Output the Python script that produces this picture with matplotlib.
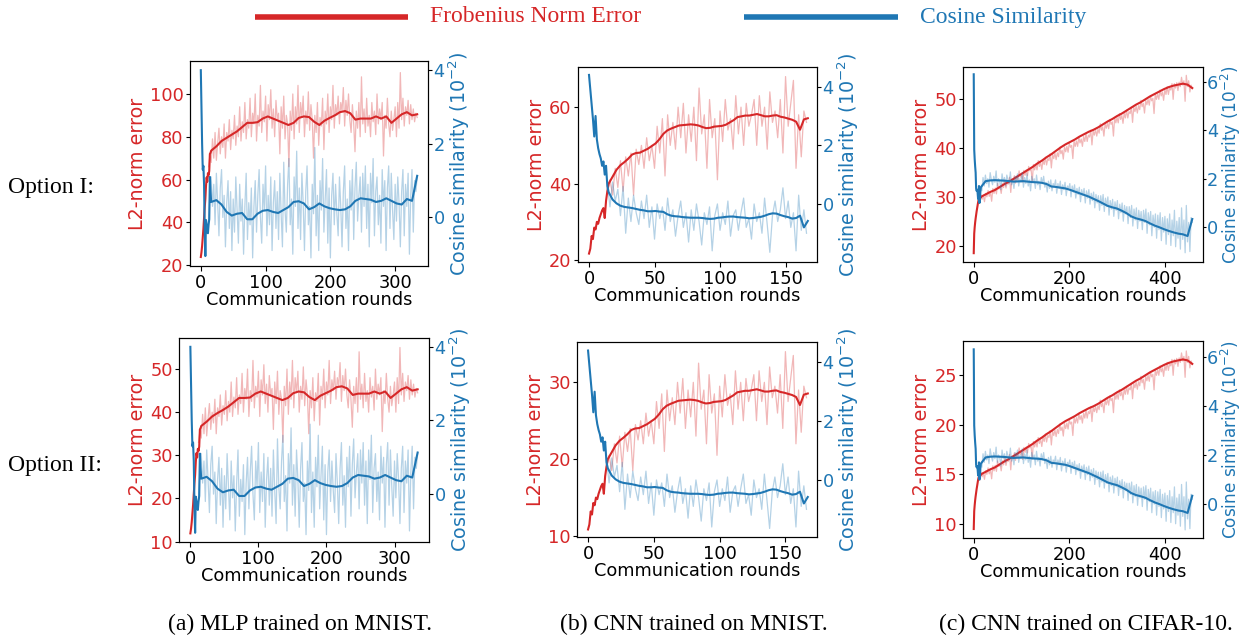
import numpy as np
import matplotlib
matplotlib.use("Agg")
import matplotlib.pyplot as plt
from matplotlib.lines import Line2D
from matplotlib.ticker import FixedLocator

RED = "#d62728"
BLUE = "#1f77b4"

# ---------------- data: (a) MLP on MNIST ----------------
A_END = 334
A_EARLY_L2 = [23.8, 26, 29, 33, 37, 42, 47, 51, 57, 61, 59, 63, 62, 64, 72, 72.5, 73.5]
A_EARLY_COS = [4.0, 3.0, 2.0, 1.3, 1.4, 0.9, -0.3, -1.05, -0.07, -0.2, -0.4, -0.43, -0.2, -0.05, 1.1, 0.7, 0.42]
A_SMOOTH_L2 = [73.5, 75.5, 78, 79.5, 81, 82.5, 84.5, 86.5, 86.5, 86.8, 88.5,
               89.5, 88.5, 87.5, 86.5, 85.5, 86.5, 88.8, 89.5, 89.2, 87,
               85.5, 87.5, 88.8, 90, 91.5, 92, 91, 88, 88.5, 88.5,
               88.5, 89.5, 88.5, 89.5, 86.5, 88.5, 90.5, 91.5, 90, 90.5]
A_SMOOTH_COS = [0.42, 0.47, 0.35, 0.15, 0.05, 0.1, 0.12, -0.05, -0.05, 0.1, 0.18,
                0.2, 0.15, 0.12, 0.2, 0.28, 0.42, 0.44, 0.38, 0.22, 0.28,
                0.38, 0.3, 0.25, 0.22, 0.2, 0.22, 0.3, 0.45, 0.52, 0.5,
                0.48, 0.42, 0.45, 0.52, 0.45, 0.38, 0.35, 0.5, 0.45, 1.13]
A_RAW_L2 = [66, 71, 68, 79, 70, 82, 69, 77, 84, 72,
            80, 75, 86, 70, 82, 78, 88, 74, 83, 79,
            90, 76, 85, 80, 94, 78, 87, 82, 96, 79,
            88, 84, 98, 80, 91, 86, 100, 78, 90, 85,
            104, 82, 92, 87, 99, 78, 95, 88, 102, 84,
            93, 80, 97, 88, 91, 72, 94, 84, 99, 79,
            90, 86, 66, 92, 83, 100, 79, 94, 86, 104,
            82, 96, 89, 99, 80, 92, 86, 101, 83, 95,
            88, 70, 90, 82, 96, 76, 89, 85, 98, 74,
            92, 86, 100, 82, 94, 88, 104, 84, 95, 90,
            99, 86, 96, 92, 103, 85, 97, 90, 100, 88,
            82, 95, 86, 73, 92, 84, 96, 80, 108, 86,
            93, 82, 98, 85, 90, 80, 96, 87, 92, 81,
            100, 86, 93, 88, 96, 71, 90, 84, 98, 86,
            80, 92, 83, 88, 94, 80, 96, 84, 110, 88,
            98, 85, 94, 90, 97, 86, 95, 88, 93, 87,
            91, 89]
A_RAW_COS = [-0.1, 0.6, 1.1, 0.3, 0.9, -0.2, 1.2, 0.4, -0.5, 0.8,
             1.3, 0.0, 0.6, -0.8, 0.4, 1.0, -0.3, 0.7, -0.9, 0.5,
             -0.4, 1.1, 0.2, -0.7, 0.9, -0.1, 0.5, -1.0, 0.3, 1.2,
             -0.6, 0.4, -0.2, 0.8, -1.1, 0.3, 1.0, -0.4, 0.6, 1.3,
             0.0, -0.7, 0.9, 0.2, 1.4, -0.5, 0.6, -0.2, 1.1, -0.9,
             0.4, 1.0, -0.3, 0.7, -0.6, 1.2, 0.1, -0.8, 1.5, 0.2,
             -0.4, 0.9, 1.6, -0.2, 0.5, -1.0, 1.1, 0.3, 1.8, -0.3,
             0.8, -0.6, 1.2, 0.4, -0.9, 0.7, 1.4, -0.2, 0.3, -1.1,
             0.9, 0.1, 1.9, -0.5, 0.6, -0.9, 1.0, 0.2, 1.6, -0.4,
             0.5, 1.3, -0.7, 0.8, -1.1, 0.6, 1.2, -0.2, 0.9, 0.1,
             -0.5, 1.1, 0.3, -0.8, 0.7, 1.4, -0.3, 0.5, -0.9, 1.0,
             0.2, 1.3, -0.6, 0.8, 1.5, -0.1, 0.6, 1.1, -0.4, 1.2,
             0.3, 1.4, -0.3, 0.9, -0.8, 1.2, 0.4, 1.6, -0.5, 0.7,
             1.1, -0.2, 0.6, -0.7, 1.3, 0.3, 1.0, -0.9, 0.8, 1.4,
             -0.3, 1.2, 0.2, -0.6, 0.9, -0.1, 1.1, 0.4, -0.8, 0.7,
             1.3, -0.5, 0.9, 0.3, 1.2, -1.0, 0.6, 1.3, -0.4, 1.0,
             0.7, 1.1]
A2_EARLY_L2 = [11.9, 13, 14.5, 16.5, 18.5, 21, 23.5, 25.5, 28.5, 30.5, 29.5, 31.5, 31, 32, 36, 36.3, 36.8]
A2_SMOOTH_L2 = [36.8, 37.8, 39, 39.8, 40.5, 41.3, 42.3, 43.3, 43.3, 43.4, 44.3,
                44.8, 44.3, 43.8, 43.3, 42.8, 43.3, 44.4, 44.8, 44.6, 43.5,
                42.8, 43.8, 44.4, 45, 45.8, 46, 45.5, 44, 44.3, 44.3,
                44.3, 44.8, 44.3, 44.8, 43.3, 44.3, 45.3, 45.8, 45, 45.3]
A2_RAW_L2 = [33, 35.5, 34, 39.5, 35, 41, 34.5, 38.5, 42, 36,
             40, 37.5, 43, 35, 41, 39, 44, 37, 41.5, 39.5,
             45, 38, 42.5, 40, 47, 39, 43.5, 41, 48, 39.5,
             44, 42, 49, 40, 45.5, 43, 50, 39, 45, 42.5,
             52, 41, 46, 43.5, 49.5, 39, 47.5, 44, 51, 42,
             46.5, 40, 48.5, 44, 45.5, 36, 47, 42, 49.5, 39.5,
             45, 43, 33, 46, 41.5, 50, 39.5, 47, 43, 52,
             41, 48, 44.5, 49.5, 40, 46, 43, 50.5, 41.5, 47.5,
             44, 35, 45, 41, 48, 38, 44.5, 42.5, 49, 37,
             46, 43, 50, 41, 47, 44, 52, 42, 47.5, 45,
             49.5, 43, 48, 46, 51.5, 42.5, 48.5, 45, 50, 44,
             41, 47.5, 43, 36.5, 46, 42, 48, 40, 54, 43,
             46.5, 41, 49, 42.5, 45, 40, 48, 43.5, 46, 40.5,
             50, 43, 46.5, 44, 48, 35.5, 45, 42, 49, 43,
             40, 46, 41.5, 44, 47, 40, 48, 42, 55, 44,
             49, 42.5, 47, 45, 48.5, 43, 47.5, 44, 46.5, 43.5,
             45.5, 44.5]

# ---------------- data: (b) CNN on MNIST ----------------
B_END = 167
B_EARLY_L2 = [21.7, 23, 26.3, 25.5, 28.5, 28, 30, 29.5, 31, 32, 33, 33.6, 31, 35.5, 38, 40]
B_EARLY_COS = [4.4, 3.9, 3.4, 2.9, 2.3, 3.0, 2.2, 1.9, 1.7, 1.55, 1.3, 1.45, 1.0, 1.3, 0.6, 0.4]
B_SMOOTH_L2 = [40, 41.8, 43.6, 44.8, 45.6, 46.5, 47.6, 48, 48.1, 48.6,
               49.1, 49.8, 50.5, 51.6, 53, 53.9, 54.4, 54.8, 55.2, 55.3,
               55.4, 55.5, 55.4, 55.2, 54.8, 54.5, 54.6, 54.9, 55, 55.1,
               55.4, 56, 56.6, 57.4, 57.6, 57.8, 57.8, 58, 58.2, 57.9,
               57.6, 57.6, 57.8, 57.9, 57.5, 57.3, 57, 56.7, 56.2, 54.1,
               56.8, 57.1]
B_SMOOTH_COS = [0.4, 0.15, 0.02, -0.06, -0.1, -0.12, -0.14, -0.17, -0.2, -0.22,
                -0.25, -0.25, -0.24, -0.26, -0.27, -0.35, -0.4, -0.42, -0.43, -0.45,
                -0.46, -0.47, -0.47, -0.47, -0.48, -0.5, -0.51, -0.5, -0.47, -0.46,
                -0.44, -0.43, -0.43, -0.45, -0.46, -0.47, -0.49, -0.48, -0.46, -0.44,
                -0.4, -0.35, -0.32, -0.33, -0.38, -0.42, -0.45, -0.5, -0.48, -0.4,
                -0.8, -0.58]
B_RAW_L2 = [38, 41, 37, 44, 39, 46, 38, 47, 42, 48, 37, 49, 45, 50, 44, 52, 46, 50, 44, 55,
            48, 57, 42, 58, 50, 56, 49, 60, 52, 61, 48, 58, 51, 60, 46, 65, 53, 58, 44, 62,
            52, 57, 41, 59, 51, 62, 54, 57, 49, 63, 53, 60, 50, 61, 55, 58, 62, 50, 63, 55,
            60, 49, 64, 56, 59, 52, 62, 48, 68, 55, 61, 67, 44, 58, 47, 59, 56]
B_RAW_COS = [0.7, -0.1, 0.75, 0.1, 0.5, -0.4, 0.6, -1.0, 0.2, -0.6, 0.3, -0.3, -0.7, 0.1, -0.5, 0.3,
             -0.8, -0.1, -1.2, 0.0, -0.5, -0.1, -0.9, 0.2, -0.6, -0.2, -1.1, -0.4, 0.1, -0.8, -0.3, -1.3,
             -0.2, -0.9, 0.0, -0.6, -1.4, -0.3, -0.7, -0.1, -1.6, -0.4, 0.0, -0.9, -0.3, -0.7, 0.1, -1.1,
             -0.4, -0.2, -0.9, -0.3, 0.2, -0.8, -0.5, -1.2, 0.0, -0.6, -0.3, -1.0, 0.2, -0.7, -1.65, -0.4,
             0.1, -0.6, -0.2, 0.55, -0.5, 0.1, -0.8, -0.3, -1.6, 0.3, -0.9, -0.2, -1.0]
B2_EARLY_L2 = [10.85, 11.5, 13.2, 12.8, 14.3, 14, 15, 14.8, 15.5, 16, 16.5, 16.8, 15.5, 17.8, 19, 20]
B2_SMOOTH_L2 = [20, 20.9, 21.8, 22.4, 22.8, 23.25, 23.8, 24, 24.05, 24.3,
                24.55, 24.9, 25.25, 25.8, 26.5, 26.95, 27.2, 27.4, 27.6, 27.65,
                27.7, 27.75, 27.7, 27.6, 27.4, 27.25, 27.3, 27.45, 27.5, 27.55,
                27.7, 28, 28.3, 28.7, 28.8, 28.9, 28.9, 29, 29.1, 28.95,
                28.8, 28.8, 28.9, 28.95, 28.75, 28.65, 28.5, 28.35, 28.1, 27.05,
                28.4, 28.55]
B2_RAW_L2 = [19, 20.5, 18.5, 22, 19.5, 23, 19, 23.5, 21, 24, 18.5, 24.5, 22.5, 25, 22, 26, 23, 25, 22, 27.5,
             24, 28.5, 21, 29, 25, 28, 24.5, 30, 26, 30.5, 24, 29, 25.5, 30, 23, 32.5, 26.5, 29, 22, 31,
             26, 28.5, 20.5, 29.5, 25.5, 31, 27, 28.5, 24.5, 31.5, 26.5, 30, 25, 30.5, 27.5, 29, 31, 25,
             31.5, 27.5, 30, 24.5, 32, 28, 29.5, 26, 31, 24, 34, 27.5, 30.5, 33.5, 22, 29, 23.5, 29.5, 28]

# ---------------- data: (c) CNN on CIFAR-10 ----------------
C_END = 458
C_EARLY_L2 = [18.5, 22.5, 23.8, 24.8, 25.6, 26.3, 27.0, 27.6, 28.2, 28.8, 29.3, 29.5, 29.6, 29.7, 29.8, 29.9]
C_EARLY_COS = [6.3, 3.2, 2.8, 2.5, 2.25, 1.6, 1.5, 1.55, 1.45, 1.2, 1.15, 1.7, 1.0, 1.1, 1.5, 1.65]
C_SMOOTH_L2 = [30.0, 30.5, 31.0, 31.4, 32.0, 32.6, 33.1, 33.7, 34.3, 34.9, 35.5, 36.1, 36.8, 37.4, 38.1,
               38.7, 39.4, 40.1, 40.7, 41.2, 41.7, 42.3, 42.8, 43.3, 43.7, 44.2, 44.8, 45.4, 45.9, 46.5,
               47.0, 47.6, 48.2, 48.8, 49.3, 49.9, 50.5, 51.0, 51.5, 52.0, 52.4, 52.7, 52.9, 53.1, 52.9,
               52.2]
C_SMOOTH_COS = [1.65, 1.9, 1.93, 1.94, 1.93, 1.92, 1.9, 1.88, 1.89, 1.9, 1.88, 1.86, 1.85, 1.83, 1.78,
                1.68, 1.66, 1.63, 1.6, 1.54, 1.47, 1.4, 1.33, 1.26, 1.17, 1.08, 0.98, 0.88, 0.82, 0.77,
                0.68, 0.58, 0.45, 0.37, 0.32, 0.26, 0.16, 0.07, 0.0, -0.08, -0.15, -0.21, -0.26, -0.29,
                -0.36, 0.34]
C_RAW_L2 = [29.6, 28.8, 30.4, 29.5, 30.3, 29.0, 30.7, 30.0, 31.3, 30.1,
            30.9, 29.1, 31.7, 30.7, 31.8, 30.6, 32.7, 31.6, 32.1, 30.7,
            32.7, 31.9, 33.3, 31.8, 32.9, 32.6, 34.0, 30.9, 33.7, 33.1,
            34.3, 32.8, 34.2, 33.4, 35.3, 34.0, 34.7, 33.0, 35.4, 34.4,
            35.5, 34.3, 36.2, 35.3, 35.7, 33.1, 36.6, 35.5, 36.6, 35.5,
            37.4, 36.2, 37.0, 35.6, 37.5, 36.6, 38.1, 36.5, 37.8, 37.4,
            38.8, 35.9, 38.7, 37.8, 38.9, 37.6, 39.0, 38.2, 40.1, 38.8,
            39.5, 37.7, 40.2, 39.2, 40.3, 39.1, 41.0, 40.1, 40.5, 37.8,
            41.4, 40.3, 41.4, 40.3, 42.2, 41.0, 41.8, 40.3, 42.3, 41.3,
            42.9, 41.3, 42.6, 42.2, 43.6, 40.6, 43.5, 42.6, 43.7, 42.4,
            43.8, 43.0, 44.9, 43.6, 44.3, 42.4, 44.9, 44.0, 45.1, 43.9,
            45.8, 44.8, 45.3, 42.4, 46.2, 45.1, 46.2, 45.1, 47.0, 45.8,
            46.6, 45.0, 47.1, 46.1, 47.7, 46.1, 47.4, 47.0, 48.3, 45.2,
            48.3, 47.4, 48.5, 47.1, 48.6, 47.8, 49.7, 48.4, 49.1, 47.1,
            49.7, 48.8, 49.9, 48.7, 50.6, 49.6, 50.1, 47.0, 51.0, 49.9,
            51.0, 49.9, 51.8, 50.6, 51.4, 49.7, 51.9, 50.9, 52.5, 50.9,
            52.2, 51.8, 53.1, 49.9, 53.1, 52.2, 53.3, 51.7, 53.4, 52.5,
            54.4, 52.8, 53.7, 49.5, 54.8, 52.5, 53.7, 51.4, 52.8, 52.1]
C_RAW_COS = [1.1, 1.6, 1.5, 2.05, 1.7,
             2.15, 1.8, 2.0, 1.65, 2.25, 1.95, 1.75, 2.1, 1.85, 2.32, 1.7, 2.0, 1.9, 1.55, 2.2, 1.85,
             2.05, 1.7, 2.15, 1.95, 1.8, 2.28, 1.75, 1.95, 1.6, 2.1, 1.9, 2.2, 1.7, 2.0, 1.85, 2.25,
             1.65, 2.05, 1.8, 2.2, 1.7, 1.95, 1.5, 2.1, 1.85, 2.0, 1.6, 2.15, 1.75, 1.9, 1.55, 2.05,
             1.8, 2.1, 1.65, 1.85,
             1.45, 1.9, 1.6, 1.95, 1.5, 1.8, 1.7, 1.95,
             1.4, 1.8, 1.6, 1.9, 1.35, 1.75, 1.55, 1.85, 1.3, 1.7, 1.6, 1.8,
             1.25, 1.7, 1.45, 1.75, 1.2, 1.6, 1.35, 1.65, 1.05, 1.55, 1.3, 1.6,
             1.0, 1.5, 1.2, 1.55, 0.95, 1.4, 1.1, 1.45, 0.8, 1.35, 1.0, 1.3,
             0.7, 1.3, 0.9, 1.35, 0.65, 1.2, 0.85, 1.25, 0.5, 1.1, 0.75, 1.15,
             0.45, 1.05, 0.7, 1.1, 0.35, 0.95, 0.6, 1.0, 0.25, 0.9, 0.55, 0.85,
             0.15, 0.85, 0.4, 0.9, 0.05, 0.75, 0.3, 0.8, -0.05, 0.7, 0.25, 0.65,
             -0.1, 0.7, 0.2, 0.75, -0.25, 0.6, 0.1, 0.65, -0.35, 0.5, 0.0, 0.55,
             -0.45, 0.5, -0.1, 0.6, -0.55, 0.4, -0.2, 0.45, -0.7, 0.35, -0.3, 0.55,
             -0.75, 0.3, -0.35, 0.7, -0.8, 0.25, -0.45, 0.4, -0.9, 0.8, -0.5, 0.3,
             -1.05, 0.9, -0.6, 0.2, -1.0, 0.4, 0.2]
C2_EARLY_L2 = [9.5, 11.3, 11.9, 12.4, 12.8, 13.15, 13.5, 13.8, 14.1, 14.4, 14.65, 14.75, 14.8, 14.85, 14.9, 14.95]
C2_SMOOTH_L2 = [15.0, 15.25, 15.5, 15.7, 16.0, 16.3, 16.55, 16.85, 17.15, 17.45, 17.75, 18.05, 18.4, 18.7,
                19.05, 19.35, 19.7, 20.05, 20.35, 20.6, 20.85, 21.15, 21.4, 21.65, 21.85, 22.1, 22.4, 22.7,
                22.95, 23.25, 23.5, 23.8, 24.1, 24.4, 24.65, 24.95, 25.25, 25.5, 25.75, 26.0, 26.2, 26.35,
                26.45, 26.55, 26.45, 26.1]
C2_RAW_L2 = [14.8, 14.4, 15.2, 14.75, 15.15, 14.5, 15.35, 15.0, 15.65, 15.05,
             15.45, 14.55, 15.85, 15.35, 15.9, 15.3, 16.35, 15.8, 16.05, 15.35,
             16.35, 15.95, 16.65, 15.9, 16.45, 16.3, 17.0, 15.45, 16.85, 16.55,
             17.15, 16.4, 17.1, 16.7, 17.65, 17.0, 17.35, 16.5, 17.7, 17.2,
             17.75, 17.15, 18.1, 17.65, 17.85, 16.55, 18.3, 17.75, 18.3, 17.75,
             18.7, 18.1, 18.5, 17.8, 18.75, 18.3, 19.05, 18.25, 18.9, 18.7,
             19.4, 17.95, 19.35, 18.9, 19.45, 18.8, 19.5, 19.1, 20.05, 19.4,
             19.75, 18.85, 20.1, 19.6, 20.15, 19.55, 20.5, 20.05, 20.25, 18.9,
             20.7, 20.15, 20.7, 20.15, 21.1, 20.5, 20.9, 20.15, 21.15, 20.65,
             21.45, 20.65, 21.3, 21.1, 21.8, 20.3, 21.75, 21.3, 21.85, 21.2,
             21.9, 21.5, 22.45, 21.8, 22.15, 21.2, 22.45, 22.0, 22.55, 21.95,
             22.9, 22.4, 22.65, 21.2, 23.1, 22.55, 23.1, 22.55, 23.5, 22.9,
             23.3, 22.5, 23.55, 23.05, 23.85, 23.05, 23.7, 23.5, 24.15, 22.6,
             24.15, 23.7, 24.25, 23.55, 24.3, 23.9, 24.85, 24.2, 24.55, 23.55,
             24.85, 24.4, 24.95, 24.35, 25.3, 24.8, 25.05, 23.5, 25.5, 24.95,
             25.5, 24.95, 25.9, 25.3, 25.7, 24.85, 25.95, 25.45, 26.25, 25.45,
             26.1, 25.9, 26.55, 24.95, 26.55, 26.1, 26.65, 25.85, 26.7, 26.25,
             27.2, 26.4, 26.85, 24.75, 27.4, 26.25, 26.85, 25.7, 26.4, 26.05]

X_TICKS_A = [0, 100, 200, 300]
X_TICKS_B = [0, 50, 100, 150]
X_TICKS_C = [0, 200, 400]
COS_TICKS_AB = [0, 2, 4]
COS_TICKS_C = [0, 2, 4, 6]

LEGEND_LABELS = ["Frobenius Norm Error", "Cosine Similarity"]
ROW_LABELS = ["Option I:", "Option II:"]
CAPTIONS = ["(a) MLP trained on MNIST.", "(b) CNN trained on MNIST.", "(c) CNN trained on CIFAR-10."]

# ---------------- figure ----------------
W, H = 1243, 636
fig = plt.figure(figsize=(W / 100, H / 100), dpi=100)
TICK_FS = 12.8
XLAB_FS = 12.8
YLAB_FS = 13.8
SERIF = ["Liberation Serif", "DejaVu Serif"]


def rect(l, r, t, b):
    return [l / W, 1 - b / H, (r - l) / W, (b - t) / H]


panels = [
    dict(box=(190, 428, 61, 266), early_l2=A_EARLY_L2, sm_l2=A_SMOOTH_L2, raw_l2=A_RAW_L2,
         early_cos=A_EARLY_COS, sm_cos=A_SMOOTH_COS, raw_cos=A_RAW_COS,
         sm0=16, rl0=12, rl1=334, rc0=12, rc1=334, end=A_END,
         xlim=(-16.7, 350.7), yl=(19.6, 115.4), yr=(-1.32, 4.25),
         xt=X_TICKS_A, lt=[20, 40, 60, 80, 100], rt=COS_TICKS_AB,
         rfs=YLAB_FS, rpad=1, rtl=3, rtp=1.0),
    dict(box=(578, 817, 67, 262), early_l2=B_EARLY_L2, sm_l2=B_SMOOTH_L2, raw_l2=B_RAW_L2,
         early_cos=B_EARLY_COS, sm_cos=B_SMOOTH_COS, raw_cos=B_RAW_COS,
         sm0=15, rl0=14, rl1=166, rc0=14, rc1=166, end=B_END,
         xlim=(-8.4, 174.0), yl=(19.5, 70.5), yr=(-1.98, 4.67),
         xt=X_TICKS_B, lt=[20, 40, 60], rt=COS_TICKS_AB,
         rfs=YLAB_FS, rpad=1, rtl=3, rtp=1.0),
    dict(box=(963, 1203, 67, 262), early_l2=C_EARLY_L2, sm_l2=C_SMOOTH_L2, raw_l2=C_RAW_L2,
         early_cos=C_EARLY_COS, sm_cos=C_SMOOTH_COS, raw_cos=C_RAW_COS,
         sm0=15, rl0=10, rl1=458, rc0=12, rc1=458, end=C_END,
         xlim=(-22.5, 480.5), yl=(16.7, 56.5), yr=(-1.43, 6.6),
         xt=X_TICKS_C, lt=[20, 30, 40, 50], rt=COS_TICKS_C,
         rfs=12.2, rpad=0, rtl=2.5, rtp=0.5),
    dict(box=(179, 429, 338, 542), early_l2=A2_EARLY_L2, sm_l2=A2_SMOOTH_L2, raw_l2=A2_RAW_L2,
         early_cos=A_EARLY_COS, sm_cos=A_SMOOTH_COS, raw_cos=A_RAW_COS,
         sm0=16, rl0=12, rl1=334, rc0=12, rc1=334, end=A_END,
         xlim=(-16.7, 350.7), yl=(9.9, 57.2), yr=(-1.3, 4.24),
         xt=X_TICKS_A, lt=[10, 20, 30, 40, 50], rt=COS_TICKS_AB,
         rfs=YLAB_FS, rpad=1, rtl=3, rtp=1.0),
    dict(box=(577, 817, 342, 537), early_l2=B2_EARLY_L2, sm_l2=B2_SMOOTH_L2, raw_l2=B2_RAW_L2,
         early_cos=B_EARLY_COS, sm_cos=B_SMOOTH_COS, raw_cos=B_RAW_COS,
         sm0=15, rl0=14, rl1=166, rc0=14, rc1=166, end=B_END,
         xlim=(-8.4, 174.0), yl=(9.87, 35.25), yr=(-1.94, 4.69),
         xt=X_TICKS_B, lt=[10, 20, 30], rt=COS_TICKS_AB,
         rfs=YLAB_FS, rpad=1, rtl=3, rtp=1.0),
    dict(box=(963, 1203, 341, 538), early_l2=C2_EARLY_L2, sm_l2=C2_SMOOTH_L2, raw_l2=C2_RAW_L2,
         early_cos=C_EARLY_COS, sm_cos=C_SMOOTH_COS, raw_cos=C_RAW_COS,
         sm0=15, rl0=10, rl1=458, rc0=12, rc1=458, end=C_END,
         xlim=(-22.5, 480.5), yl=(8.6, 28.4), yr=(-1.38, 6.64),
         xt=X_TICKS_C, lt=[10, 15, 20, 25], rt=COS_TICKS_C,
         rfs=12.2, rpad=0, rtl=2.5, rtp=0.5),
]

for p in panels:
    ax = fig.add_axes(rect(*p["box"]))
    ax2 = ax.twinx()
    # faded raw curves
    xr = np.linspace(p["rl0"], p["rl1"], len(p["raw_l2"]))
    ax.plot(xr, p["raw_l2"], color=RED, alpha=0.33, lw=0.9)
    xc = np.linspace(p["rc0"], p["rc1"], len(p["raw_cos"]))
    ax2.plot(xc, p["raw_cos"], color=BLUE, alpha=0.33, lw=0.9)
    # smoothed curves
    xs_l = np.r_[np.arange(len(p["early_l2"])), np.linspace(p["sm0"], p["end"], len(p["sm_l2"]))]
    ax.plot(xs_l, np.r_[p["early_l2"], p["sm_l2"]], color=RED, lw=1.5)
    xs_c = np.r_[np.arange(len(p["early_cos"])), np.linspace(p["sm0"], p["end"], len(p["sm_cos"]))]
    ax2.plot(xs_c, np.r_[p["early_cos"], p["sm_cos"]], color=BLUE, lw=1.5)

    ax.set_xlim(*p["xlim"])
    ax.set_ylim(*p["yl"])
    ax2.set_ylim(*p["yr"])
    ax.xaxis.set_major_locator(FixedLocator(p["xt"]))
    ax.yaxis.set_major_locator(FixedLocator(p["lt"]))
    ax2.yaxis.set_major_locator(FixedLocator(p["rt"]))
    ax.tick_params(axis="x", labelsize=TICK_FS, colors="black", length=3.5, pad=2.5)
    ax.tick_params(axis="y", labelsize=TICK_FS, labelcolor=RED, length=3, pad=1.5)
    ax2.tick_params(axis="y", labelsize=TICK_FS, labelcolor=BLUE, length=p["rtl"], pad=p["rtp"])
    ax.set_xlabel("Communication rounds", fontsize=XLAB_FS, labelpad=-1)
    ax.set_ylabel("L2-norm error", fontsize=YLAB_FS, color=RED, labelpad=2)
    ax2.set_ylabel(r"Cosine similarity ($10^{-2}$)", fontsize=p["rfs"], color=BLUE,
                   labelpad=p["rpad"])

# legend drawn at the top of the figure
fig.add_artist(Line2D([255 / W, 408 / W], [1 - 16.5 / H] * 2, transform=fig.transFigure,
                      color=RED, lw=4.0, solid_capstyle="butt"))
fig.add_artist(Line2D([744 / W, 898 / W], [1 - 16.5 / H] * 2, transform=fig.transFigure,
                      color=BLUE, lw=4.0, solid_capstyle="butt"))
fig.text(430 / W, 1 - 17 / H, LEGEND_LABELS[0], color=RED, fontsize=17, family=SERIF,
         ha="left", va="center")
fig.text(920 / W, 1 - 17 / H, LEGEND_LABELS[1], color=BLUE, fontsize=17, family=SERIF,
         ha="left", va="center")

fig.text(8 / W, 1 - 187 / H, ROW_LABELS[0], fontsize=17, family=SERIF, ha="left", va="center")
fig.text(8 / W, 1 - 465 / H, ROW_LABELS[1], fontsize=17, family=SERIF, ha="left", va="center")

for cx, cap in zip([300, 694, 1086], CAPTIONS):
    fig.text(cx / W, 1 - 624 / H, cap, fontsize=17, family=SERIF, ha="center", va="center")

fig.savefig("out.png", dpi=100)
